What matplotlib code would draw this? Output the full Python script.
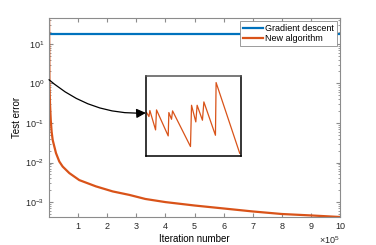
import numpy as np
import matplotlib
matplotlib.use('Agg')
import matplotlib.pyplot as plt

plt.rcParams['font.family'] = ['Liberation Sans', 'DejaVu Sans']
plt.rcParams['mathtext.fontset'] = 'custom'
plt.rcParams['mathtext.rm'] = 'Liberation Sans'

# Gradient descent: flat line
gd_iter = [0, 1000000]
gd_err = [18.0, 18.0]

# New algorithm
new_iter = [0, 1500, 3500, 6000, 9000, 12700, 24000, 35400, 47000, 69900,
            104000, 161000, 219000, 276000, 331000, 400000, 500000, 600000,
            700000, 800000, 900000, 1000000]
new_err = [100, 1.0, 0.3, 0.12, 0.06, 0.037, 0.0173, 0.0106, 0.0079, 0.0054,
           0.0036, 0.0025, 0.00186, 0.00152, 0.0012, 0.001, 0.00082, 0.00069,
           0.00058, 0.0005, 0.00046, 0.00042]

# zoomed-in sawtooth shown in the inset (relative units)
inset_x = [0.7, 3.2, 4.2, 10.2, 11.2, 23.5, 24.2, 27.0, 28.1, 47.0, 48.1, 52.6,
           54.0, 59.6, 61.1, 73.3, 74.0, 98.9]
inset_y = [54.2, 49.2, 56.7, 32.5, 57.5, 25.0, 54.2, 45.8, 56.3, 11.7, 63.3, 42.5,
           63.3, 44.6, 67.5, 25.8, 91.7, 3.3]

x_ticks = [1, 2, 3, 4, 5, 6, 7, 8, 9, 10]

blue = '#0072BD'
orange = '#D95319'
grey = '#8c8c8c'

fig = plt.figure(figsize=(3.76, 2.45), dpi=100)
ax = fig.add_axes([49/376, 1 - 217/245, 291/376, 199/245])

ax.plot(gd_iter, gd_err, color=blue, lw=1.6, label='Gradient descent')
ax.plot(new_iter, new_err, color=orange, lw=1.6, label='New algorithm')

ax.set_yscale('log')
ax.set_xlim(0, 1000000)
ax.set_ylim(4.2e-4, 45)
ax.set_xticks([t * 1e5 for t in x_ticks])
ax.set_xticklabels([str(t) for t in x_ticks])
ax.tick_params(which='both', direction='in', top=True, right=True,
               labelsize=6.5, colors=grey, labelcolor='#262626')
ax.tick_params(which='major', length=3)
ax.tick_params(which='minor', length=1.6)
for s in ax.spines.values():
    s.set_color(grey)
    s.set_linewidth(0.8)

ax.set_xlabel('Iteration number', fontsize=7, labelpad=2)
ax.set_ylabel('Test error', fontsize=7, labelpad=2)
ax.text(1.0, -0.085, r'$\times10^{5}$', transform=ax.transAxes,
        fontsize=6.5, ha='right', va='top', color='#262626')

leg = ax.legend(loc='upper right', fontsize=6.5, frameon=True, fancybox=False,
                framealpha=1, edgecolor='#8c8c8c', borderpad=0.3,
                handlelength=2.2, handletextpad=0.3, labelspacing=0.15,
                borderaxespad=0.35)
leg.get_frame().set_linewidth(0.6)

# inset
ins = ax.inset_axes([0.333, 0.307, 0.326, 0.402])
ins.plot(inset_x, inset_y, color=orange, lw=0.9)
ins.set_xlim(0, 100)
ins.set_ylim(0, 100)
ins.set_xticks([])
ins.set_yticks([])
for s in ins.spines.values():
    s.set_color('black')
    s.set_linewidth(1.1)
ins.spines['top'].set_color('#555555')

ax.annotate('', xy=(0.333, 0.523), xycoords='axes fraction',
            xytext=(0.0, 0.69), textcoords='axes fraction',
            arrowprops=dict(arrowstyle='-|>', color='black', lw=0.9,
                            mutation_scale=14, shrinkA=0, shrinkB=0,
                            connectionstyle='arc3,rad=0.2'))

fig.savefig('out.png', dpi=100)
